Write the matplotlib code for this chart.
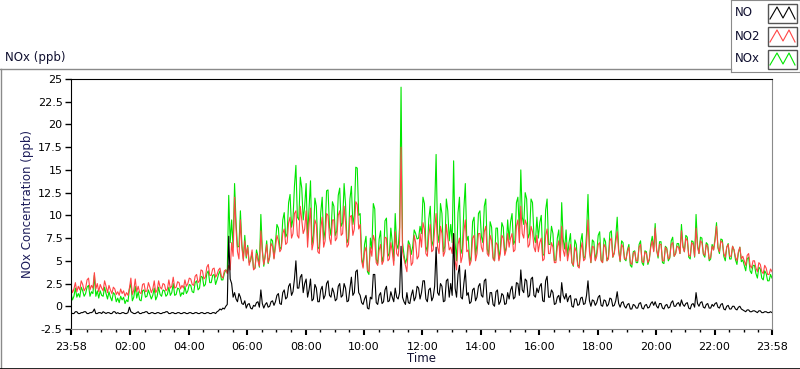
import numpy as np
import matplotlib
matplotlib.use("Agg")
import matplotlib.pyplot as plt
from matplotlib.lines import Line2D
from matplotlib.patches import Rectangle
from matplotlib.ticker import FixedLocator

# NO2 (ppb), one sample every 3 minutes from 23:58, one row per hour
no2 = [
    2.1, 1.5, 1.9, 2.6, 1.6, 2.2, 1.8, 2.8, 2.4, 1.7, 2.0, 2.9, 3.1, 1.8, 2.3, 2.0, 3.7, 1.9, 2.5, 1.6,
    2.4, 2.0, 1.7, 2.8, 2.2, 1.5, 2.3, 1.8, 1.4, 2.1, 1.9, 1.3, 1.6, 1.2, 1.9, 1.4, 1.7, 1.1, 1.5, 1.2,
    2.0, 3.1, 1.3, 1.8, 3.0, 1.6, 2.2, 1.5, 1.4, 2.4, 2.5, 1.6, 1.7, 2.6, 2.1, 1.5, 1.9, 2.8, 1.5, 1.8,
    2.8, 2.1, 1.9, 2.5, 2.4, 1.7, 1.9, 2.9, 2.0, 2.2, 3.2, 2.0, 2.1, 2.7, 2.6, 1.9, 2.3, 2.0, 2.9, 2.2,
    2.5, 3.1, 3.0, 2.4, 2.3, 3.3, 3.5, 2.6, 2.8, 4.0, 3.9, 3.0, 3.2, 4.3, 4.6, 3.4, 3.4, 4.1, 4.2, 3.2,
    3.5, 4.0, 4.2, 3.3, 3.1, 3.9, 4.0, 3.6, 4.5, 4.0, 7.0, 5.5, 12.0, 8.5, 6.0, 5.2, 9.5, 6.5, 5.0, 7.2,
    5.5, 6.5, 4.5, 5.2, 6.2, 4.0, 4.2, 5.8, 5.0, 4.4, 8.3, 6.0, 4.6, 5.5, 6.8, 4.8, 5.4, 6.9, 6.6, 5.2,
    6.5, 7.8, 7.2, 6.0, 6.3, 8.0, 8.5, 6.8, 7.0, 9.2, 9.8, 7.5, 8.0, 10.2, 10.5, 7.8, 7.5, 11.0, 9.5, 8.0,
    8.5, 10.5, 6.5, 9.0, 10.8, 6.2, 7.0, 9.5, 9.0, 6.0, 5.8, 8.5, 9.8, 6.5, 7.2, 10.2, 10.0, 7.5, 6.8, 9.5,
    9.5, 7.2, 7.5, 10.0, 10.5, 7.8, 8.0, 11.0, 9.2, 6.5, 6.8, 9.8, 10.0, 7.8, 8.5, 11.5, 11.2, 8.5, 9.0, 5.0,
    4.2, 6.0, 6.5, 4.0, 3.8, 6.5, 5.5, 7.8, 7.2, 4.8, 4.5, 6.2, 6.8, 4.6, 5.0, 7.6, 7.5, 5.0, 5.2, 7.0,
    6.0, 4.5, 8.2, 5.8, 5.5, 7.2, 17.5, 6.0, 5.2, 4.5, 3.8, 6.8, 6.5, 4.5, 4.8, 7.8, 7.0, 5.2, 5.5, 8.0,
    6.5, 9.2, 8.5, 5.8, 5.5, 7.8, 9.0, 6.0, 6.2, 8.5, 10.2, 6.5, 5.8, 8.8, 8.0, 5.5, 6.0, 9.0, 7.5, 6.2,
    6.5, 5.8, 8.0, 5.0, 4.0, 6.8, 7.5, 4.8, 5.5, 8.2, 9.5, 6.0, 6.2, 4.5, 5.0, 7.5, 7.8, 5.0, 5.8, 8.0,
    8.0, 6.5, 6.0, 8.2, 8.8, 5.8, 5.5, 7.8, 7.2, 5.2, 5.0, 7.0, 6.8, 5.0, 5.8, 7.8, 7.5, 5.6, 6.2, 8.0,
    6.5, 7.5, 8.0, 6.0, 6.2, 8.8, 9.5, 7.0, 11.0, 8.0, 7.5, 9.5, 9.0, 6.5, 6.8, 8.8, 8.2, 6.5, 6.0, 7.8,
    6.0, 7.0, 7.5, 5.0, 5.2, 7.8, 8.5, 5.8, 5.8, 7.0, 6.5, 4.8, 4.8, 6.5, 7.2, 5.0, 8.8, 6.2, 5.5, 7.0,
    5.0, 6.0, 6.8, 4.8, 4.5, 6.5, 6.0, 4.4, 4.2, 6.2, 7.0, 5.0, 5.2, 6.8, 9.5, 6.0, 4.8, 6.6, 6.5, 5.0,
    5.5, 6.8, 7.0, 5.0, 4.8, 6.8, 6.5, 5.0, 5.2, 7.2, 7.5, 5.4, 5.8, 7.0, 8.2, 6.0, 5.0, 6.8, 6.5, 5.2,
    5.2, 6.0, 6.5, 4.8, 4.6, 5.8, 6.0, 5.0, 5.0, 6.5, 6.8, 5.0, 4.8, 6.0, 5.8, 4.8, 5.2, 6.5, 7.2, 6.0,
    8.6, 6.2, 5.5, 6.8, 6.8, 5.0, 5.0, 6.5, 6.2, 5.2, 5.4, 6.8, 7.0, 5.5, 5.8, 6.6, 6.5, 5.8, 8.3, 6.5,
    6.0, 7.5, 7.2, 5.6, 5.5, 7.0, 6.8, 5.5, 8.6, 6.5, 5.8, 7.2, 7.0, 5.8, 5.6, 6.8, 6.5, 5.2, 5.4, 6.6,
    6.2, 7.2, 8.8, 6.5, 6.0, 7.2, 7.0, 5.8, 5.4, 6.5, 6.8, 5.5, 5.5, 6.6, 6.2, 5.4, 5.0, 6.0, 6.5, 5.2,
    5.5, 5.0, 4.5, 5.6, 5.8, 4.5, 4.2, 5.0, 5.0, 4.2, 3.8, 4.8, 4.6, 3.8, 3.6, 4.5, 4.2, 3.5, 3.5, 4.1,
    3.8,
]

# NO (ppb), same sampling
no = [
    -0.7, -0.8, -0.8, -0.6, -0.6, -0.8, -0.8, -0.7, -0.7, -0.6, -0.6, -0.8, -0.8, -0.7, -0.7, -0.6, -0.3, -0.8, -0.8, -0.7,
    -0.7, -0.8, -0.6, -0.7, -0.8, -0.7, -0.7, -0.8, -0.8, -0.6, -0.6, -0.8, -0.7, -0.8, -0.8, -0.7, -0.7, -0.8, -0.8, -0.7,
    -0.1, -0.6, -0.7, -0.8, -0.8, -0.7, -0.6, -0.8, -0.8, -0.7, -0.7, -0.6, -0.6, -0.8, -0.8, -0.7, -0.7, -0.8, -0.8, -0.7,
    -0.7, -0.8, -0.8, -0.7, -0.7, -0.6, -0.6, -0.8, -0.8, -0.7, -0.7, -0.8, -0.8, -0.7, -0.7, -0.8, -0.8, -0.7, -0.7, -0.8,
    -0.8, -0.7, -0.7, -0.8, -0.8, -0.7, -0.7, -0.8, -0.8, -0.7, -0.7, -0.8, -0.8, -0.7, -0.7, -0.8, -0.8, -0.7, -0.7, -0.8,
    -0.6, -0.5, -0.3, -0.4, -0.2, -0.3, 0.0, 0.2, 7.7, 3.0, 2.5, 1.0, 1.5, 0.8, 0.5, 1.4, 1.0, 0.3, 0.2, 0.6,
    -0.2, 0.2, 0.3, -0.2, -0.3, 0.1, 0.0, 0.4, 0.5, -0.1, 1.8, 0.3, -0.2, 0.2, 0.4, -0.1, 0.0, 0.5, 0.6, 0.1,
    0.5, 1.2, 1.4, 0.3, 0.2, 1.5, 1.8, 0.8, 1.0, 2.2, 2.5, 1.2, 1.6, 3.0, 5.0, 2.0, 2.0, 3.2, 3.5, 1.5,
    2.5, 3.0, 1.0, 1.8, 3.0, 0.6, 0.8, 2.4, 2.0, 0.5, 0.5, 1.8, 2.2, 0.8, 1.2, 2.5, 2.8, 1.2, 1.0, 2.0,
    1.5, 0.6, 0.8, 2.2, 2.5, 1.0, 1.2, 2.5, 2.0, 0.5, 0.6, 2.0, 3.2, 1.2, 1.5, 3.8, 4.0, 1.5, 1.2, 0.4,
    0.2, 0.8, 1.2, -0.2, -0.3, 1.0, 0.8, 3.5, 3.5, 0.4, 0.2, 1.2, 1.5, 0.3, 0.5, 1.8, 2.2, 0.5, 0.6, 1.6,
    1.0, 0.5, 2.0, 1.0, 0.8, 1.5, 6.6, 1.0, 0.5, 0.2, 1.5, 0.4, 0.3, 1.2, 1.8, 0.6, 1.0, 2.2, 2.0, 0.8,
    1.5, 2.8, 2.8, 0.8, 0.5, 1.8, 2.0, 0.6, 1.0, 2.2, 6.5, 1.5, 1.2, 2.5, 2.2, 0.5, 0.6, 2.8, 3.0, 1.0,
    2.5, 1.2, 8.0, 2.0, 1.0, 3.5, 4.5, 1.0, 0.8, 2.5, 4.0, 1.2, 1.5, 0.3, 0.5, 1.8, 2.0, 0.6, 1.0, 2.2,
    2.5, 1.2, 1.0, 2.8, 3.0, 0.5, 0.2, 1.5, 1.5, 0.2, 0.0, 1.6, 1.8, 0.2, 0.5, 1.4, 1.2, 0.2, 0.3, 1.5,
    0.8, 1.8, 2.2, 0.8, 1.0, 2.6, 2.5, 1.2, 4.0, 1.8, 1.5, 3.0, 2.8, 1.0, 1.2, 3.0, 3.2, 1.2, 1.0, 2.0,
    1.5, 2.2, 2.5, 0.6, 0.5, 2.8, 3.3, 1.0, 1.0, 1.8, 1.5, 0.2, 0.3, 1.0, 1.2, 0.4, 2.6, 1.2, 0.8, 1.4,
    0.5, 1.0, 1.2, 0.0, -0.1, 0.8, 0.8, 0.1, 0.2, 0.9, 1.0, 0.2, 0.3, 1.2, 2.8, 0.6, 0.0, 0.7, 0.6, 0.1,
    0.4, 1.0, 1.2, 0.1, 0.0, 0.7, 0.6, 0.0, 0.2, 0.9, 0.8, 0.0, 0.1, 0.6, 1.6, 0.3, -0.1, 0.4, 0.5, 0.0,
    -0.2, 0.2, 0.3, -0.3, -0.3, 0.2, 0.1, -0.2, -0.2, 0.3, 0.4, -0.2, -0.3, 0.1, 0.2, -0.2, -0.1, 0.3, 0.5, 0.1,
    0.5, 0.0, -0.2, 0.3, 0.3, -0.2, -0.3, 0.1, 0.2, -0.2, -0.1, 0.4, 0.6, 0.0, 0.0, 0.3, 0.4, 0.0, 0.7, 0.2,
    0.0, 0.3, 0.4, -0.2, -0.3, 0.2, 0.3, -0.1, 1.5, 0.3, 0.0, 0.4, 0.5, -0.1, -0.2, 0.2, 0.3, -0.2, -0.2, 0.2,
    0.0, 0.3, 0.4, -0.1, -0.2, 0.2, 0.3, -0.3, -0.4, 0.0, 0.1, -0.3, -0.3, 0.0, 0.0, -0.3, -0.4, -0.1, 0.0, -0.3,
    -0.4, -0.5, -0.6, -0.4, -0.4, -0.6, -0.6, -0.5, -0.5, -0.6, -0.7, -0.5, -0.5, -0.7, -0.7, -0.6, -0.6, -0.7, -0.7, -0.6,
    -0.7,
]

# NOx is NO + NO2
nox = np.array(no) + np.array(no2)
hours = np.arange(len(no2)) * 0.05  # hours after 23:58

tick_hours = [0, 2.033, 4.033, 6.033, 8.033, 10.033, 12.033, 14.033,
              16.033, 18.033, 20.033, 22.033, 24]
tick_labels = ["23:58", "02:00", "04:00", "06:00", "08:00", "10:00", "12:00",
               "14:00", "16:00", "18:00", "20:00", "22:00", "23:58"]
y_ticks = [-2.5, 0, 2.5, 5, 7.5, 10, 12.5, 15, 17.5, 20, 22.5, 25]
y_labels = ["-2.5", "0", "2.5", "5", "7.5", "10", "12.5", "15", "17.5", "20", "22.5", "25"]

RED = "#ff4545"
GREEN = "#00e600"

plt.rcParams["font.family"] = "DejaVu Sans"
plt.rcParams["font.size"] = 8

fig = plt.figure(figsize=(8, 3.69), dpi=100)
ax = fig.add_axes([71 / 800, 1 - 329 / 369, 701 / 800, 250 / 369])

ax.plot(hours, nox, color=GREEN, lw=0.8)
ax.plot(hours, no2, color=RED, lw=0.8)
ax.plot(hours, no, color="black", lw=0.8)

ax.set_xlim(0, 24)
ax.set_ylim(-2.5, 25)
ax.xaxis.set_major_locator(FixedLocator(tick_hours))
ax.set_xticklabels(tick_labels)
ax.xaxis.set_minor_locator(FixedLocator(np.arange(0.533, 24, 0.5)))
ax.set_yticks(y_ticks)
ax.set_yticklabels(y_labels)
ax.tick_params(axis="x", which="major", length=4, width=1.5, pad=5)
ax.tick_params(axis="x", which="minor", length=2.5, width=1)
ax.tick_params(axis="y", length=4, width=1, pad=2)

ax.spines["top"].set_color("black")
ax.spines["left"].set_color("black")
ax.spines["right"].set_color("#8a8a8a")
ax.spines["bottom"].set_color("#8a8a8a")

ax.set_ylabel("NOx Concentration (ppb)", color="#1c1c5a", fontsize=8.5)
ax.yaxis.set_label_coords(-0.053, 0.5)
ax.set_xlabel("Time", color="#101030", fontsize=8.5)
ax.xaxis.set_label_coords(0.5, -0.092)

fig.text(5 / 800, 1 - 58 / 369, "NOx (ppb)", fontsize=8.5, va="center", ha="left", color="#101030")

# panel frame
fig.add_artist(Line2D([0, 731 / 800], [1 - 69 / 369] * 2, color="#8a8a8a", lw=1))
fig.add_artist(Line2D([0.5 / 800] * 2, [0, 1 - 69 / 369], color="#8a8a8a", lw=1))
fig.add_artist(Line2D([0, 1], [0.5 / 369] * 2, color="black", lw=1.2))

# legend box with zigzag icons
leg = fig.add_axes([731 / 800, 1 - 72 / 369, 69 / 800, 72 / 369])
leg.set_xlim(0, 69)
leg.set_ylim(72, 0)
leg.set_xticks([])
leg.set_yticks([])
for s in leg.spines.values():
    s.set_color("#8a8a8a")
names = ["NO", "NO2", "NOx"]
colors = ["black", RED, GREEN]
for i, (name, c) in enumerate(zip(names, colors)):
    yc = 13 + i * 23
    leg.text(4, yc, name, fontsize=8.5, va="center", ha="left", color="#101030")
    leg.add_patch(Rectangle((37, yc - 9.5), 29, 19, fill=False, ec="#555555", lw=1))
    leg.plot([39, 46, 52, 58, 64], [yc + 6, yc - 6, yc + 5, yc - 6, yc + 6], color=c, lw=0.8)

fig.savefig("out.png", dpi=100, facecolor="white")
